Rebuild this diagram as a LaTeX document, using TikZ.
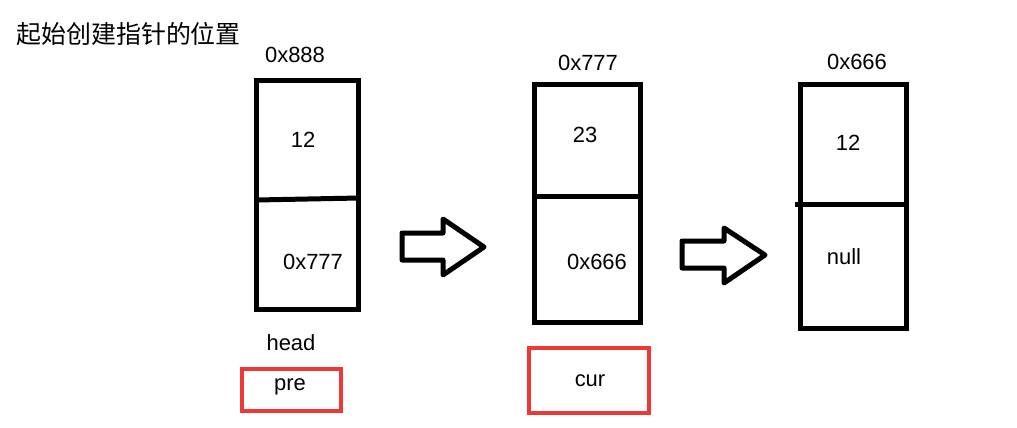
\documentclass[tikz,border=0pt]{standalone}
\usepackage{fontspec}
\setmainfont{Liberation Sans}
\newfontfamily\cjk{Noto Sans CJK SC}
\definecolor{ptrred}{RGB}{238,56,56}
\begin{document}
\begin{tikzpicture}[x=0.02cm, y=-0.02cm,
  cell/.style={draw, line width=0.1cm, inner sep=0pt},
  ptr/.style={draw=ptrred, line width=0.062cm, inner sep=0pt},
  lbl/.style={font=\fontsize{12.5}{14}\selectfont, inner sep=0pt},
  blk/.style={line width=0.1cm, line join=round}]
\useasboundingbox (0,0) rectangle (1017,427);
\node[font=\cjk\fontsize{14.2}{16}\selectfont, anchor=west, inner sep=0pt] (title) at (16,34) {起始创建指针的位置};
% first node
\node[cell, minimum width=2.06cm, minimum height=4.6cm] (n1) at (307.5,195) {};
\draw[line width=0.1cm] (256,200) -- (359,198);
\node[lbl] (a1) at (295,55) {0x888};
\node[lbl] (d1) at (303,140) {12};
\node[lbl] (p1) at (313,262) {0x777};
\node[lbl] (head) at (291,343) {head};
\node[ptr, minimum width=1.98cm, minimum height=0.84cm] (pre) at (291.5,390) {};
\node[lbl] (pretext) at (290,387) {pre};
% second node
\node[cell, minimum width=2.14cm, minimum height=4.78cm] (n2) at (587.5,203.5) {};
\draw[line width=0.1cm] (534,196) -- (641,196);
\node[lbl] (a2) at (588,63) {0x777};
\node[lbl] (d2) at (585,135) {23};
\node[lbl] (p2) at (597,262) {0x666};
\node[ptr, minimum width=2.4cm, minimum height=1.3cm] (cur) at (589,380.5) {};
\node[lbl] (curtext) at (590,381) {cur};
% third node
\node[cell, minimum width=2.12cm, minimum height=4.9cm] (n3) at (853,206.5) {};
\draw[line width=0.1cm] (795,204) -- (909,204);
\node[lbl] (a3) at (857,62) {0x666};
\node[lbl] (d3) at (848,143) {12};
\node[lbl] (p3) at (844,257) {null};
% block arrows
\draw[blk] (402,233) -- (443,233) -- (443,219) -- (484,247) -- (443,275) -- (443,260) -- (402,260) -- cycle;
\draw[blk] (682,241) -- (724,241) -- (724,228) -- (765,255) -- (724,283) -- (724,268) -- (682,268) -- cycle;
\end{tikzpicture}
\end{document}
